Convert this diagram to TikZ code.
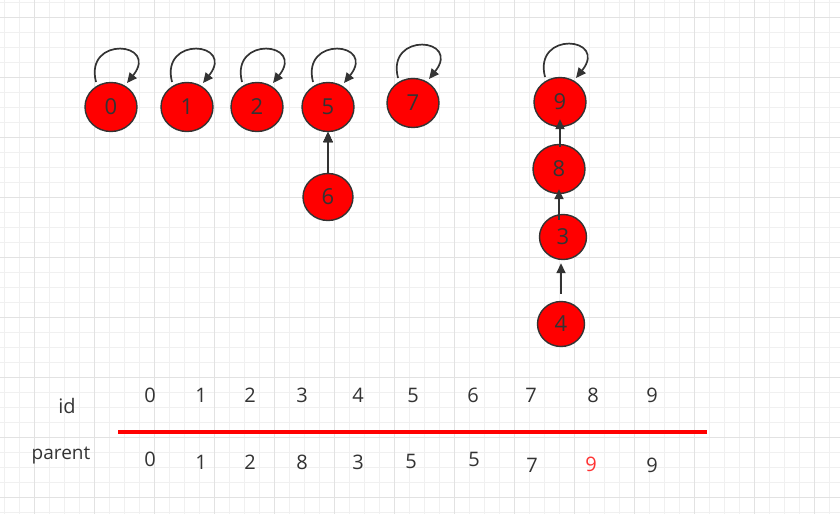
\documentclass[tikz,border=0pt]{standalone}
\usepackage{fontspec}
\setmainfont{Open Sans}
\usetikzlibrary{shapes.geometric,arrows.meta}
\definecolor{ink}{HTML}{333333}
\definecolor{setred}{HTML}{FF0000}
\definecolor{hired}{HTML}{FF3333}
\definecolor{gridlo}{HTML}{F0F0F0}
\definecolor{gridhi}{HTML}{E2E2E2}
\newcommand\selfloop[1]{\draw[arr] ([shift={(-15,-25)}]#1.center) .. controls +(-12,-47) and +(33,-41) .. ([shift={(16,-24)}]#1.center);}

\begin{document}
\begin{tikzpicture}[x=1pt, y=-1pt,
    elem/.style={ellipse, draw=ink, fill=setred, line width=1.4pt, minimum width=52pt, minimum height=49pt, inner sep=0pt, text=ink, font=\fontsize{22}{26}\selectfont},
    small/.style={minimum width=47pt, minimum height=45pt},
    arr/.style={-{Triangle[length=10pt,width=9pt]}, draw=ink, line width=1.7pt},
    cell/.style={text=ink, inner sep=0pt, font=\fontsize{20}{24}\selectfont}]
    \fill[white] (0,0) rectangle (840,514);
    \useasboundingbox (0,0) rectangle (840,514);

    % background grid
    \foreach \gx in {4,19,...,840} \draw[gridlo, line width=1pt] (\gx,0) -- (\gx,514);
    \foreach \gy in {2,17,...,514} \draw[gridlo, line width=1pt] (0,\gy) -- (840,\gy);
    \foreach \gx in {34,94,...,840} \draw[gridhi, line width=1pt] (\gx,0) -- (\gx,514);
    \foreach \gy in {17,77,...,514} \draw[gridhi, line width=1pt] (0,\gy) -- (840,\gy);

    % sets
    \node[elem] (n0) at (111,107) {0};
    \node[elem] (n1) at (187,107) {1};
    \node[elem] (n2) at (257,107) {2};
    \node[elem] (n5) at (328,107) {5};
    \node[elem] (n7) at (413,103) {7};
    \node[elem, minimum width=50pt, minimum height=47pt] (n6) at (328,197) {6};
    \node[elem] (n9) at (560,102) {9};
    \node[elem] (n8) at (559,169) {8};
    \node[elem, small] (n3) at (563,237) {3};
    \node[elem, small] (n4) at (561,324) {4};

    \foreach \n in {n0,n1,n2,n5,n7,n9} \selfloop{\n}
    \draw[arr] (n6) -- (n5);
    \draw[arr, shorten <=-3pt, shorten >=-8pt] (n8.north -| n9) -- (n9.south);
    \draw[arr, shorten <=-6pt, shorten >=-5pt] (n3.north -| n8) -- (n8.south);
    \draw[arr, shorten <=7pt, shorten >=3pt] (n4.north) -- (n4.north |- n3.south);

    % table
    \node[cell] (idlabel) at (67,406) {id};
    \node[cell, font=\fontsize{19}{23}\selectfont] (palabel) at (61,456) {parent};
    \foreach \v/\px in {0/150,1/201,2/250,3/302,4/358,5/413,6/473,7/531,8/593,9/652}
        \node[cell] (id\v) at (\px,395) {\v};
    \draw[setred, line width=4pt] (118,432) -- (707,432);
    \foreach \v/\p/\px/\py in {0/0/150/459,1/1/201/462,2/2/250/462,3/8/302/462,4/3/358/462,5/5/411/461,6/5/474/459,7/7/532/465,9/9/652/465}
        \node[cell] (pa\v) at (\px,\py) {\p};
    \node[cell, text=hired] (pa8) at (591,464) {9};
\end{tikzpicture}
\end{document}
